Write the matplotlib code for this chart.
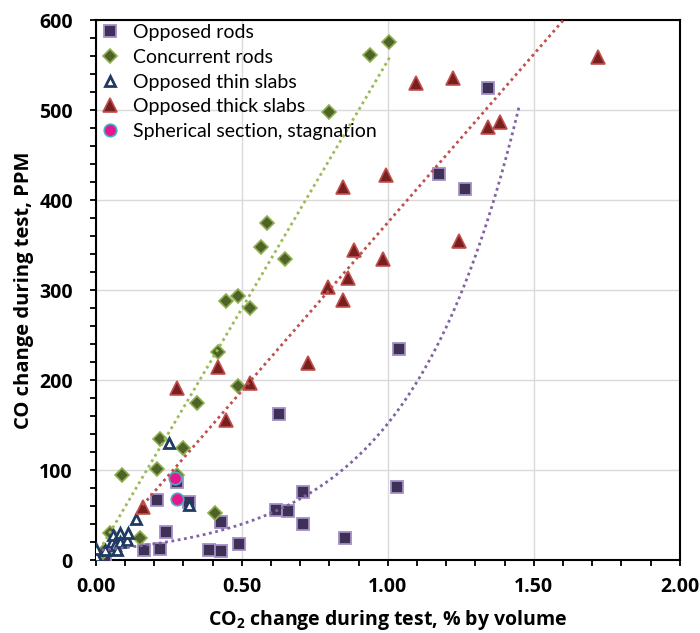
import numpy as np
import matplotlib
matplotlib.use("Agg")
import matplotlib.pyplot as plt
from matplotlib.ticker import MultipleLocator, FormatStrFormatter

# ---------------- data ----------------
opposed_rods_x = [0.03, 0.165, 0.219, 0.21, 0.241, 0.278, 0.32, 0.388, 0.429, 0.429, 0.489,
                  0.616, 0.628, 0.658, 0.708, 0.708, 0.853, 1.03, 1.04, 1.174, 1.264, 1.342]
opposed_rods_y = [3, 11, 12, 67, 31, 87, 64, 11, 10, 42, 18,
                  56, 162, 55, 76, 40, 25, 81, 234, 429, 412, 525]

concurrent_x = [0.025, 0.048, 0.089, 0.151, 0.21, 0.219, 0.278, 0.299, 0.347, 0.408, 0.419,
                0.447, 0.487, 0.487, 0.527, 0.567, 0.587, 0.647, 0.798, 0.938, 1.005]
concurrent_y = [9, 30, 94, 24, 101, 134, 94, 124, 175, 52, 231,
                288, 293, 193, 280, 348, 375, 334, 498, 561, 576]

thin_x = [0.0, 0.002, 0.031, 0.054, 0.057, 0.065, 0.071, 0.082, 0.084, 0.105, 0.111, 0.139, 0.25, 0.318]
thin_y = [5, 12, 11, 20, 28, 17, 11, 30, 20, 22, 30, 46, 130, 61]

thick_x = [0.16, 0.277, 0.418, 0.447, 0.527, 0.727, 0.796, 0.845, 0.845, 0.864, 0.884,
           0.984, 0.993, 1.095, 1.224, 1.243, 1.344, 1.384, 1.72]
thick_y = [59, 191, 214, 156, 197, 219, 303, 289, 415, 313, 344,
           335, 428, 530, 536, 354, 481, 487, 559]

spherical_x = [0.27, 0.278]
spherical_y = [91.5, 68]

labels = ["Opposed rods", "Concurrent rods", "Opposed thin slabs",
          "Opposed thick slabs", "Spherical section, stagnation"]

# trendline parameters
concurrent_trend = dict(slope=551.0, intercept=4.0, xmin=0.024, xmax=1.01)
thick_trend = dict(slope=374.0, intercept=1.0, xmin=0.16, xmax=1.70)
rods_trend = dict(a=10.5, b=2.67, xmin=0.02, xmax=1.45)

x_ticks = [0.0, 0.5, 1.0, 1.5, 2.0]
y_ticks = [0, 100, 200, 300, 400, 500, 600]

# ---------------- style ----------------
BOLD_FAMILY = ['Open Sans', 'Liberation Sans', 'DejaVu Sans']
plt.rcParams['font.family'] = ['Lato', 'DejaVu Sans']
plt.rcParams['mathtext.fontset'] = 'custom'
plt.rcParams['mathtext.rm'] = 'Open Sans:bold'
plt.rcParams['mathtext.bf'] = 'Open Sans:bold'

fig = plt.figure(figsize=(7.0, 6.33), dpi=100)
ax = fig.add_axes([0.137, 0.1153, 0.834, 0.853])

ax.set_xlim(0, 2.0)
ax.set_ylim(0, 600)

ax.grid(True, which='major', color='#D9D9D9', linewidth=1.0, zorder=0)
ax.set_axisbelow(True)

# series
ax.plot(opposed_rods_x, opposed_rods_y, linestyle='none', marker='s', markersize=8.3,
        markerfacecolor='#3F3155', markeredgecolor='#A28FC6', markeredgewidth=1.3,
        label=labels[0], zorder=3)
ax.plot(concurrent_x, concurrent_y, linestyle='none', marker='D', markersize=7.6,
        markerfacecolor='#4F6228', markeredgecolor='#8FB050', markeredgewidth=1.2,
        label=labels[1], zorder=3)
ax.plot(thin_x, thin_y, linestyle='none', marker='^', markersize=7.5,
        markerfacecolor='white', markeredgecolor='#1F3B63', markeredgewidth=2.0,
        label=labels[2], zorder=3)
ax.plot(thick_x, thick_y, linestyle='none', marker='^', markersize=9.5,
        markerfacecolor='#7A1F1F', markeredgecolor='#C0504D', markeredgewidth=1.2,
        label=labels[3], zorder=3)
ax.plot(spherical_x, spherical_y, linestyle='none', marker='o', markersize=9,
        markerfacecolor='#E6168C', markeredgecolor='#4BACC6', markeredgewidth=1.2,
        label=labels[4], zorder=3)

# trendlines
dots = (0, (1, 1.3))
xs = np.linspace(concurrent_trend['xmin'], concurrent_trend['xmax'], 50)
ax.plot(xs, concurrent_trend['slope'] * xs + concurrent_trend['intercept'],
        color='#9BBB59', linewidth=2.0, linestyle=dots, zorder=4)
xs = np.linspace(thick_trend['xmin'], thick_trend['xmax'], 50)
ax.plot(xs, thick_trend['slope'] * xs + thick_trend['intercept'],
        color='#C0504D', linewidth=2.0, linestyle=dots, zorder=4)
xs = np.linspace(rods_trend['xmin'], rods_trend['xmax'], 200)
ax.plot(xs, rods_trend['a'] * np.exp(rods_trend['b'] * xs),
        color='#8064A2', linewidth=2.0, linestyle=dots, zorder=4)

# axes
ax.set_xticks(x_ticks)
ax.set_yticks(y_ticks)
ax.xaxis.set_minor_locator(MultipleLocator(0.1))
ax.yaxis.set_minor_locator(MultipleLocator(20))
ax.xaxis.set_major_formatter(FormatStrFormatter('%.2f'))
ax.tick_params(which='both', direction='out', length=4.5, width=1.3, color='black')
ax.tick_params(axis='x', which='major', pad=8)
ax.tick_params(axis='y', which='major', pad=12)
for lab in ax.get_xticklabels() + ax.get_yticklabels():
    lab.set_family(BOLD_FAMILY)
    lab.set_fontweight('bold')
    lab.set_fontsize(14)
for sp in ax.spines.values():
    sp.set_color('black')
    sp.set_linewidth(1.5)

ax.set_xlabel(r'CO$_{\mathbf{2}}$ change during test, % by volume', fontsize=14,
              fontweight='bold', family=BOLD_FAMILY, labelpad=8)
ax.set_ylabel('CO change during test, PPM', fontsize=14.5, fontweight='bold',
              family=BOLD_FAMILY, labelpad=4)

leg = ax.legend(loc='upper left', frameon=False, fontsize=14, borderaxespad=0.0,
                borderpad=0.2, handlelength=1.0, handletextpad=0.7, labelspacing=0.4,
                numpoints=1)

fig.savefig('out.png', dpi=100)
